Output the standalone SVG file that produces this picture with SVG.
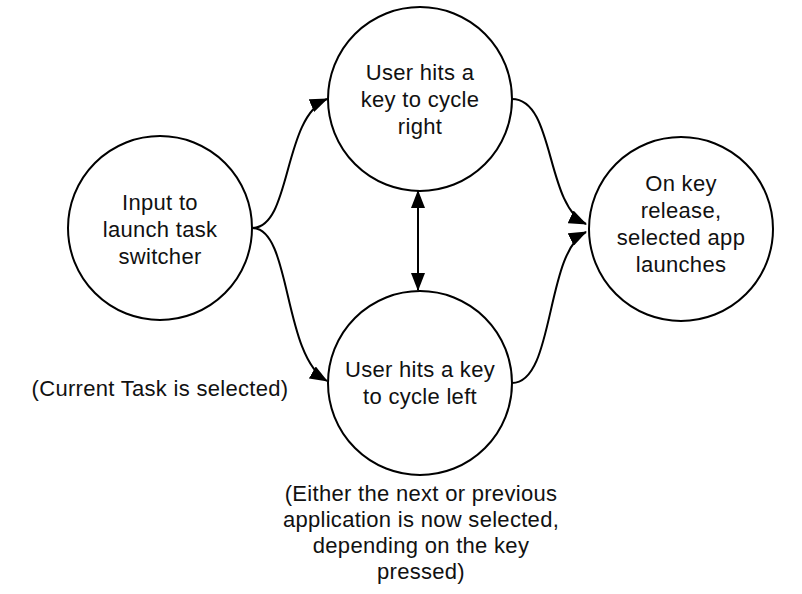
<svg xmlns="http://www.w3.org/2000/svg" width="802" height="594" viewBox="0 0 802 594">
<style>
.node{fill:#fff;stroke:#000;stroke-width:2}
.t{font-family:"Liberation Sans",Arial,sans-serif;font-size:22px;letter-spacing:0.3px;fill:#111;text-anchor:middle}
.c{fill:none;stroke:#000;stroke-width:2}
</style>
<defs>
<marker id="ah" viewBox="0 0 18 14" refX="17" refY="7" markerWidth="18" markerHeight="14" markerUnits="userSpaceOnUse" orient="auto-start-reverse">
<path d="M0,0 L18,7 L0,14 Z" fill="#000"/>
</marker>
</defs>
<rect width="802" height="594" fill="#fff"/>
<g id="connectors">
<path class="c" d="M252,228 C292,228 282,118 327,99" marker-end="url(#ah)"/>
<path class="c" d="M252,228 C292,228 282,355 327,381" marker-end="url(#ah)"/>
<path class="c" d="M512,99 C555,99 545,205 586,224" marker-end="url(#ah)"/>
<path class="c" d="M512,383 C555,383 545,252 586,232" marker-end="url(#ah)"/>
<path class="c" d="M418,191 L418,290" marker-start="url(#ah)" marker-end="url(#ah)"/>
</g>
<g id="n-input">
<circle class="node" cx="160" cy="228" r="92"/>
<text class="t" x="160" y="210">Input to</text>
<text class="t" x="160" y="237">launch task</text>
<text class="t" x="160" y="264">switcher</text>
</g>
<g id="n-right">
<circle class="node" cx="420" cy="99" r="92"/>
<text class="t" x="420" y="80">User hits a</text>
<text class="t" x="420" y="107">key to cycle</text>
<text class="t" x="420" y="134">right</text>
</g>
<g id="n-left">
<circle class="node" cx="420" cy="383" r="92"/>
<text class="t" x="420" y="377">User hits a key</text>
<text class="t" x="420" y="404">to cycle left</text>
</g>
<g id="n-launch">
<circle class="node" cx="681" cy="229" r="92"/>
<text class="t" x="681" y="191">On key</text>
<text class="t" x="681" y="218">release,</text>
<text class="t" x="681" y="245">selected app</text>
<text class="t" x="681" y="272">launches</text>
</g>
<g id="labels">
<text class="t" x="160" y="396">(Current Task is selected)</text>
<text class="t" x="421" y="501">(Either the next or previous</text>
<text class="t" x="421" y="527">application is now selected,</text>
<text class="t" x="421" y="553">depending on the key</text>
<text class="t" x="421" y="579">pressed)</text>
</g>
</svg>
